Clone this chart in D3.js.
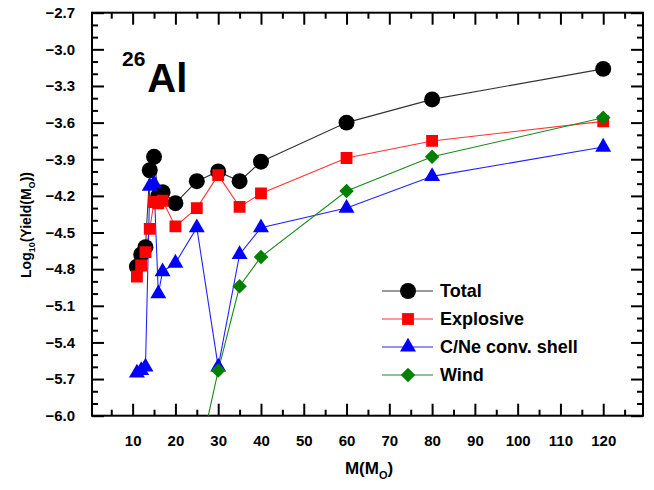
<!DOCTYPE html>
<html><head><meta charset="utf-8">
<script src="https://cdn.jsdelivr.net/npm/d3@7"></script>
<style>body{margin:0;background:#fff}svg{display:block}text{font-family:Arial,"Liberation Sans",sans-serif;font-weight:bold}</style>
</head><body>
<script>
const masses = [11,12,13,14,15,16,17,20,25,30,35,40,60,80,120];
const total = [-4.78,-4.68,-4.62,-3.99,-3.88,-4.20,-4.17,-4.26,-4.08,-4.00,-4.08,-3.92,-3.60,-3.41,-3.16];
const explosive = [-4.86,-4.77,-4.66,-4.47,-4.25,-4.26,-4.24,-4.45,-4.30,-4.03,-4.29,-4.18,-3.89,-3.75,-3.59];
const cneShell = [-5.65,-5.63,-5.60,-4.12,-4.10,-5.00,-4.82,-4.75,-4.46,-5.60,-4.68,-4.46,-4.30,-4.04,-3.80];
const windMasses = [25,30,35,40,60,80,120];
const wind = [-6.43,-5.63,-4.94,-4.70,-4.16,-3.88,-3.56];
const xTicks = [10,20,30,40,50,60,70,80,90,100,110,120];
const yTicks = [-2.7,-3.0,-3.3,-3.6,-3.9,-4.2,-4.5,-4.8,-5.1,-5.4,-5.7,-6.0];
const seriesNames = ["Total","Explosive","C/Ne conv. shell","Wind"];
const seriesColors = ["#000000","#ff0000","#0000ff","#008000"];
const lineColors = ["#333333","#ff3333","#2222ff","#1a8a1a"];

const W=654,H=490;
const L=92,R=643,T=12.7,B=415.7;
const svg=d3.select("body").append("svg").attr("width",W).attr("height",H);
const x=d3.scaleLinear().domain([0.5,129.3]).range([L,R]);
const y=d3.scaleLinear().domain([-6.0,-2.7]).range([B,T]);

svg.append("clipPath").attr("id","clip").append("rect").attr("x",L).attr("y",T).attr("width",R-L).attr("height",B-T);

const xMinor=d3.range(5,130,5).filter(v=>v%10!==0);
const yMinor=d3.range(-60,-26,1).map(v=>v/10).filter(v=>!yTicks.some(t=>Math.abs(t-v)<1e-6));
function styleAxis(g){g.select(".domain").remove();g.selectAll("line").attr("stroke","#000").attr("stroke-width",2);}
const MAJ=12,MIN=6;
svg.append("g").attr("transform",`translate(0,${B})`).call(d3.axisBottom(x).tickValues(xTicks).tickSizeInner(-MAJ).tickSizeOuter(0).tickPadding(20).tickFormat(d3.format("d"))).call(styleAxis)
  .selectAll("text").attr("font-size",15).attr("fill","#000");
svg.append("g").attr("transform",`translate(0,${B})`).call(d3.axisBottom(x).tickValues(xMinor).tickSizeInner(-MIN).tickSizeOuter(0).tickFormat("")).call(styleAxis);
svg.append("g").attr("transform",`translate(0,${T})`).call(d3.axisTop(x).tickValues(xTicks).tickSizeInner(-MAJ).tickSizeOuter(0).tickFormat("")).call(styleAxis);
svg.append("g").attr("transform",`translate(0,${T})`).call(d3.axisTop(x).tickValues(xMinor).tickSizeInner(-MIN).tickSizeOuter(0).tickFormat("")).call(styleAxis);
svg.append("g").attr("transform",`translate(${L},0)`).call(d3.axisLeft(y).tickValues(yTicks).tickSizeInner(-MAJ).tickSizeOuter(0).tickPadding(17).tickFormat(d3.format(".1f"))).call(styleAxis)
  .selectAll("text").attr("font-size",15).attr("fill","#000");
svg.append("g").attr("transform",`translate(${L},0)`).call(d3.axisLeft(y).tickValues(yMinor).tickSizeInner(-MIN).tickSizeOuter(0).tickFormat("")).call(styleAxis);
svg.append("g").attr("transform",`translate(${R},0)`).call(d3.axisRight(y).tickValues(yTicks).tickSizeInner(-MAJ).tickSizeOuter(0).tickFormat("")).call(styleAxis);
svg.append("g").attr("transform",`translate(${R},0)`).call(d3.axisRight(y).tickValues(yMinor).tickSizeInner(-MIN).tickSizeOuter(0).tickFormat("")).call(styleAxis);

svg.append("rect").attr("x",L).attr("y",T).attr("width",R-L).attr("height",B-T).attr("fill","none").attr("stroke","#000").attr("stroke-width",2);

const series=[
  {xs:masses,ys:total,sym:d3.symbolCircle,size:200,rot:0},
  {xs:masses,ys:explosive,sym:d3.symbolSquare,size:140,rot:0},
  {xs:masses,ys:cneShell,sym:d3.symbolTriangle,size:110,rot:0},
  {xs:windMasses,ys:wind,sym:d3.symbolSquare,size:105,rot:45}
];
const line=d3.line().x(d=>x(d[0])).y(d=>y(d[1]));
const plot=svg.append("g").attr("clip-path","url(#clip)");
series.forEach((s,i)=>{
  const pts=s.xs.map((m,j)=>[m,s.ys[j]]);
  plot.append("path").attr("d",line(pts)).attr("fill","none").attr("stroke",lineColors[i]).attr("stroke-width",1.1);
});
series.forEach((s,i)=>{
  const pts=s.xs.map((m,j)=>[m,s.ys[j]]);
  plot.selectAll(null).data(pts).enter().append("path")
    .attr("d",d3.symbol().type(s.sym).size(s.size))
    .attr("transform",d=>`translate(${x(d[0])},${y(d[1])}) rotate(${s.rot})`)
    .attr("fill",seriesColors[i]);
});

const lg=svg.append("g");
seriesNames.forEach((n,i)=>{
  const yy=291+i*28;
  lg.append("line").attr("x1",382).attr("x2",433).attr("y1",yy).attr("y2",yy).attr("stroke",lineColors[i]).attr("stroke-width",1.1);
  lg.append("path").attr("d",d3.symbol().type(series[i].sym).size(series[i].size)).attr("transform",`translate(408,${yy}) rotate(${series[i].rot})`).attr("fill",seriesColors[i]);
  lg.append("text").attr("x",440).attr("y",yy+6).attr("font-size",18).attr("fill","#000").text(n);
});

const tt=svg.append("text").attr("x",122).attr("y",92).attr("fill","#000");
tt.append("tspan").attr("font-size",21).attr("dy",-26).text("26");
tt.append("tspan").attr("font-size",40).attr("dy",26).attr("dx",2).text("Al");

const xt=svg.append("text").attr("x",369).attr("y",474).attr("text-anchor","middle").attr("font-size",17).attr("fill","#000");
xt.append("tspan").text("M(M");
xt.append("tspan").attr("font-size",11).attr("dy",5).text("O");
xt.append("tspan").attr("dy",-5).text(")");

const yt=svg.append("text").attr("transform","translate(31,225) rotate(-90)").attr("text-anchor","middle").attr("font-size",14).attr("fill","#000");
yt.append("tspan").text("Log");
yt.append("tspan").attr("font-size",9).attr("dy",4).text("10");
yt.append("tspan").attr("dy",-4).text("(Yield(M");
yt.append("tspan").attr("font-size",9).attr("dy",4).text("O");
yt.append("tspan").attr("dy",-4).text("))");
</script>
</body></html>
